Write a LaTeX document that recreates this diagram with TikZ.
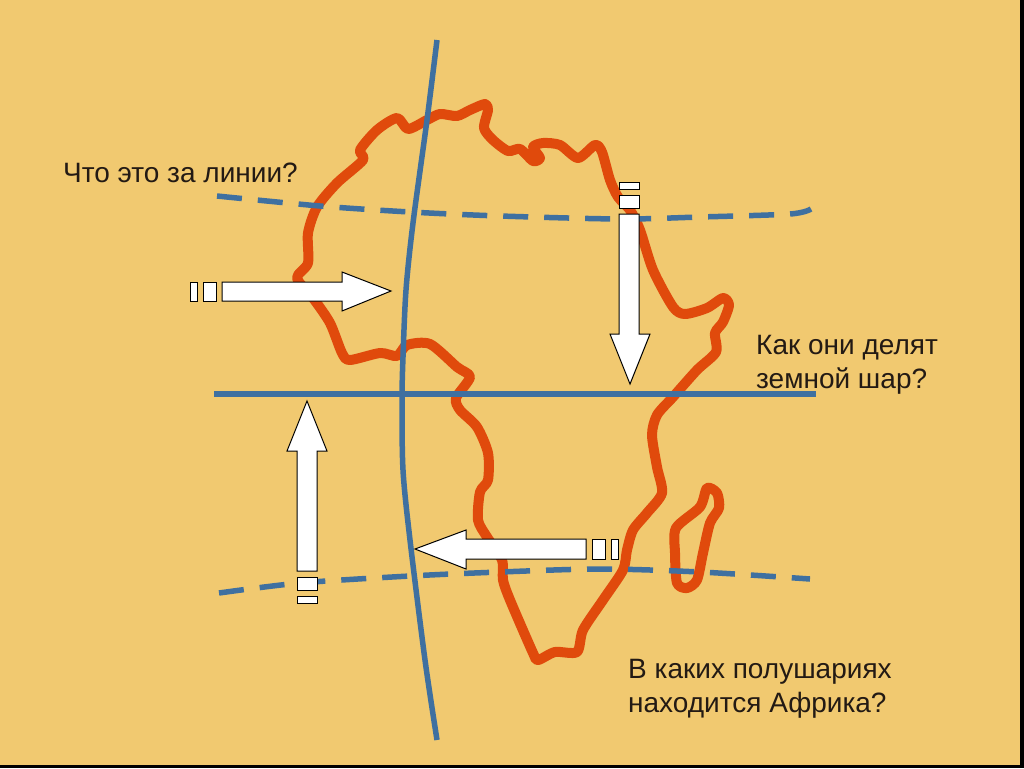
\documentclass[tikz,border=0pt]{standalone}
\usepackage{fontspec}
\setmainfont{Liberation Sans}
\definecolor{bg}{HTML}{F1C970}
\definecolor{coast}{HTML}{E04A0C}
\definecolor{gridblue}{HTML}{3F70A0}
\definecolor{ink}{HTML}{231A14}
\tikzset{
  coastline/.style={draw=coast,line width=10pt,line join=round},
  gridline/.style={draw=gridblue,line width=5.5pt},
  dashline/.style={draw=gridblue,line width=5.5pt,dash pattern=on 25pt off 16pt},
  arrowshape/.style={draw=black,fill=white,line width=1pt,line join=miter},
  question/.style={text=ink,inner sep=0pt,anchor=west,align=left,font=\fontsize{28}{34}\selectfont},
}
\begin{document}
\begin{tikzpicture}[x=1pt,y=-1pt]
\useasboundingbox (0,0) rectangle (1024,768);
\fill[black] (0,0) rectangle (1024,768);
\fill[bg] (0,0) rectangle (1020,765);
% Africa
\draw[coastline] plot[smooth cycle,tension=0.45] coordinates {
(427,120)(440,114)(457,116)(470,110)(485,104)(488,110)(484,128)(493,140)(508,151)(520,149)(533,161)(540,158)(533,147)(543,143)(560,145)(578,158)(595,145)(602,152)(610,180)(618,197)(630,210)(640,230)(653,270)(673,307)(685,314)(707,308)(723,298)(729,305)(723,322)(715,333)(716,352)(697,370)(673,397)(657,415)(652,435)(657,467)(662,493)(647,513)(633,530)(627,550)(623,570)(603,600)(583,630)(577,652)(555,652)(538,660)(533,653)(510,600)(503,580)(502,560)(487,537)(478,520)(480,492)(488,480)(488,453)(477,427)(460,410)(456,398)(470,377)(457,367)(430,344)(407,345)(397,356)(380,353)(350,360)(342,353)(330,323)(313,298)(297,278)(308,263)(308,233)(317,207)(337,183)(363,160)(360,150)(377,130)(397,118)(408,129)};
% Madagascar
\draw[coastline] plot[smooth cycle,tension=0.45] coordinates {
(707,488)(717,493)(719,508)(710,523)(703,553)(697,580)(687,588)(677,583)(675,553)(676,528)(700,507)};
% grid
\draw[dashline] plot[smooth,tension=0.5] coordinates {(217,196)(320,206)(410,212)(500,216)(620,219)(700,217)(790,214)(811,209)};
\draw[dashline] plot[smooth,tension=0.5] coordinates {(219,593)(300,583)(410,576)(500,572)(600,569)(700,572)(810,579)};
\draw[gridline] plot[smooth,tension=0.5] coordinates {(437,40)(427,120)(413,223)(406,290)(403,357)(402,400)(403,470)(410,540)(425,660)(437,740)};
\draw[gridline] (214,394) -- (816,394);
% arrows
\draw[arrowshape] (222,282)--(342,282)--(342,272)--(391,291)--(342,311)--(342,301)--(222,301)--cycle;
\draw[arrowshape] (203,282) rectangle (216,301);
\draw[arrowshape] (190,282) rectangle (197,301);
\draw[arrowshape] (619,214)--(619,334)--(610,334)--(630,384)--(650,334)--(639,334)--(639,214)--cycle;
\draw[arrowshape] (619,195) rectangle (639,208);
\draw[arrowshape] (619,182) rectangle (639,189);
\draw[arrowshape] (586,539)--(466,539)--(466,530)--(415,549)--(466,569)--(466,559)--(586,559)--cycle;
\draw[arrowshape] (592,539) rectangle (605,559);
\draw[arrowshape] (611,539) rectangle (618,559);
\draw[arrowshape] (297,571)--(297,451)--(287,451)--(307,401)--(327,451)--(317,451)--(317,571)--cycle;
\draw[arrowshape] (297,577) rectangle (317,590);
\draw[arrowshape] (297,596) rectangle (317,603);
% text
\node[question] (q1) at (63,173) {Что это за линии?};
\node[question] (q2) at (756,364.5) {Как они делят\\земной шар?};
\node[question] (q3) at (628,688.5) {В каких полушариях\\находится Африка?};
\end{tikzpicture}
\end{document}
